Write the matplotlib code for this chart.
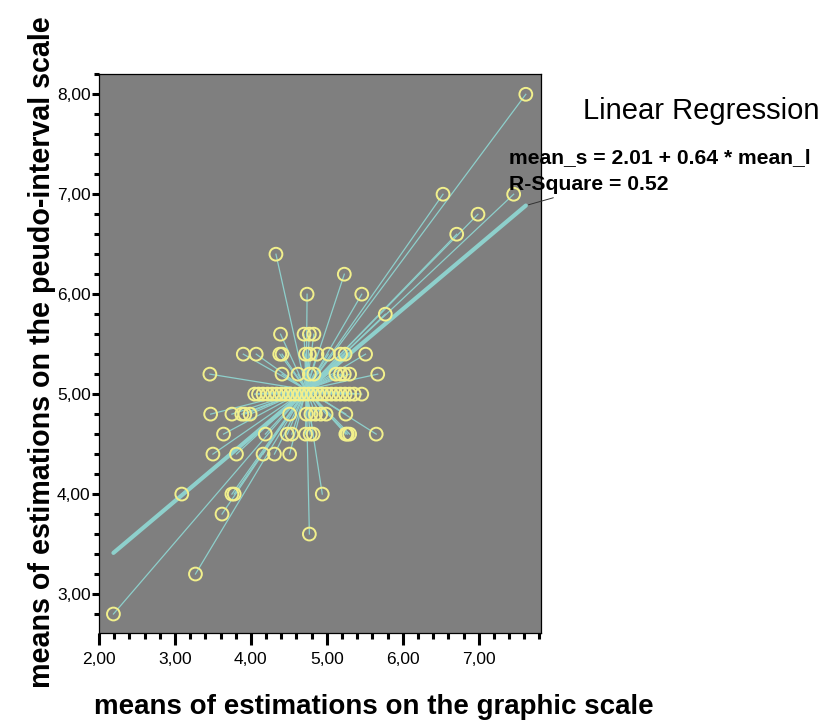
import numpy as np
import matplotlib.pyplot as plt
from matplotlib.ticker import MultipleLocator, FuncFormatter

plt.rcParams['font.family'] = ['Liberation Sans', 'DejaVu Sans']

# means on the graphic scale (x) and on the pseudo-interval scale (y), one pair per subject
graphic_means = [
    7.62, 6.53, 7.46, 6.99, 6.71, 4.33, 5.23, 4.74, 5.46, 5.77,
    4.39, 4.70, 4.77, 4.83,
    3.90, 4.07, 4.38, 4.41, 4.72, 4.77, 4.87, 5.02, 5.18, 5.24, 5.51,
    3.46, 4.41, 4.62, 4.77, 4.83, 5.12, 5.18, 5.23, 5.30, 5.67,
    4.05, 4.10, 4.16, 4.22, 4.28, 4.34, 4.40, 4.46, 4.52, 4.58, 4.64, 4.70,
    4.76, 4.82, 4.88, 4.94, 5.00, 5.06, 5.12, 5.18, 5.24, 5.30, 5.36, 5.46,
    3.47, 3.75, 3.88, 3.92, 3.99, 4.51, 4.73, 4.79, 4.85, 4.92, 4.99, 5.25,
    3.64, 4.19, 4.48, 4.54, 4.72, 4.78, 4.82, 5.25, 5.27, 5.30, 5.65,
    3.50, 3.81, 4.16, 4.31, 4.51,
    3.09, 3.75, 3.78, 4.94,
    3.62, 4.77, 3.27, 2.19,
]
pseudo_means = [
    8.0, 7.0, 7.0, 6.8, 6.6, 6.4, 6.2, 6.0, 6.0, 5.8,
    5.6, 5.6, 5.6, 5.6,
    5.4, 5.4, 5.4, 5.4, 5.4, 5.4, 5.4, 5.4, 5.4, 5.4, 5.4,
    5.2, 5.2, 5.2, 5.2, 5.2, 5.2, 5.2, 5.2, 5.2, 5.2,
    5.0, 5.0, 5.0, 5.0, 5.0, 5.0, 5.0, 5.0, 5.0, 5.0, 5.0, 5.0,
    5.0, 5.0, 5.0, 5.0, 5.0, 5.0, 5.0, 5.0, 5.0, 5.0, 5.0, 5.0,
    4.8, 4.8, 4.8, 4.8, 4.8, 4.8, 4.8, 4.8, 4.8, 4.8, 4.8, 4.8,
    4.6, 4.6, 4.6, 4.6, 4.6, 4.6, 4.6, 4.6, 4.6, 4.6, 4.6,
    4.4, 4.4, 4.4, 4.4, 4.4,
    4.0, 4.0, 4.0, 4.0,
    3.8, 3.6, 3.2, 2.8,
]

# regression reported in the chart
intercept = 2.01
slope = 0.64
r_square = 0.52

spike_col = '#8ed0cc'
marker_col = '#f2f08c'

x = np.array(graphic_means)
y = np.array(pseudo_means)
cx, cy = x.mean(), y.mean()

fig = plt.figure(figsize=(8.37, 7.21), dpi=100)
ax = fig.add_axes([99 / 837, 88 / 721, 442 / 837, 558.7 / 721])
ax.set_facecolor('#7f7f7f')

# spikes from the centroid to every point
for xi, yi in zip(x, y):
    ax.plot([cx, xi], [cy, yi], color=spike_col, lw=0.9, zorder=2)

# fit line
xl = np.array([x.min(), x.max()])
yl = intercept + slope * xl
ax.plot(xl, yl, color=spike_col, lw=3, solid_capstyle='round', zorder=3)

ax.scatter(x, y, s=85, facecolors='none', edgecolors=marker_col, linewidths=1.4, zorder=4)

ax.set_xlim(2.0, 7.82)
ax.set_ylim(2.61, 8.2)
ax.xaxis.set_major_locator(MultipleLocator(1))
ax.xaxis.set_minor_locator(MultipleLocator(0.2))
ax.yaxis.set_major_locator(MultipleLocator(1))
ax.yaxis.set_minor_locator(MultipleLocator(0.2))
fmt = FuncFormatter(lambda v, p: f"{v:.2f}".replace('.', ','))
ax.xaxis.set_major_formatter(fmt)
ax.yaxis.set_major_formatter(fmt)
ax.tick_params(axis='x', which='major', length=8.5, width=2.2, pad=5, labelsize=12.5)
ax.tick_params(axis='x', which='minor', length=4.3, width=2.2)
ax.tick_params(axis='y', which='major', length=5, width=2.2, pad=1, labelsize=12.5)
ax.tick_params(axis='y', which='minor', length=3.6, width=2.2)
for s in ax.spines.values():
    s.set_linewidth(0.9)

# labels and regression legend
fig.text(374 / 837, 1 - 707 / 721, 'means of estimations on the graphic scale',
         ha='center', va='center', fontsize=20, fontweight='bold')
fig.text(42 / 837, 1 - 352 / 721, 'means of estimations on the peudo-interval scale',
         ha='center', va='center', rotation=90, fontsize=20.6, fontweight='bold')
fig.text(583 / 837, 1 - 111 / 721, 'Linear Regression', ha='left', va='center', fontsize=21)
fig.text(509 / 837, 1 - 158 / 721, f'mean_s = {intercept:.2f} + {slope:.2f} * mean_l',
         ha='left', va='center', fontsize=15.2, fontweight='bold')
fig.text(509 / 837, 1 - 184 / 721, f'R-Square = {r_square:.2f}',
         ha='left', va='center', fontsize=15.2, fontweight='bold')
ax.annotate('', xy=(xl[1], yl[1]), xycoords='data',
            xytext=(556 / 837, 1 - 197 / 721), textcoords='figure fraction',
            arrowprops=dict(arrowstyle='-', color='#333333', lw=0.7), annotation_clip=False)

fig.savefig('out.png', dpi=100)
